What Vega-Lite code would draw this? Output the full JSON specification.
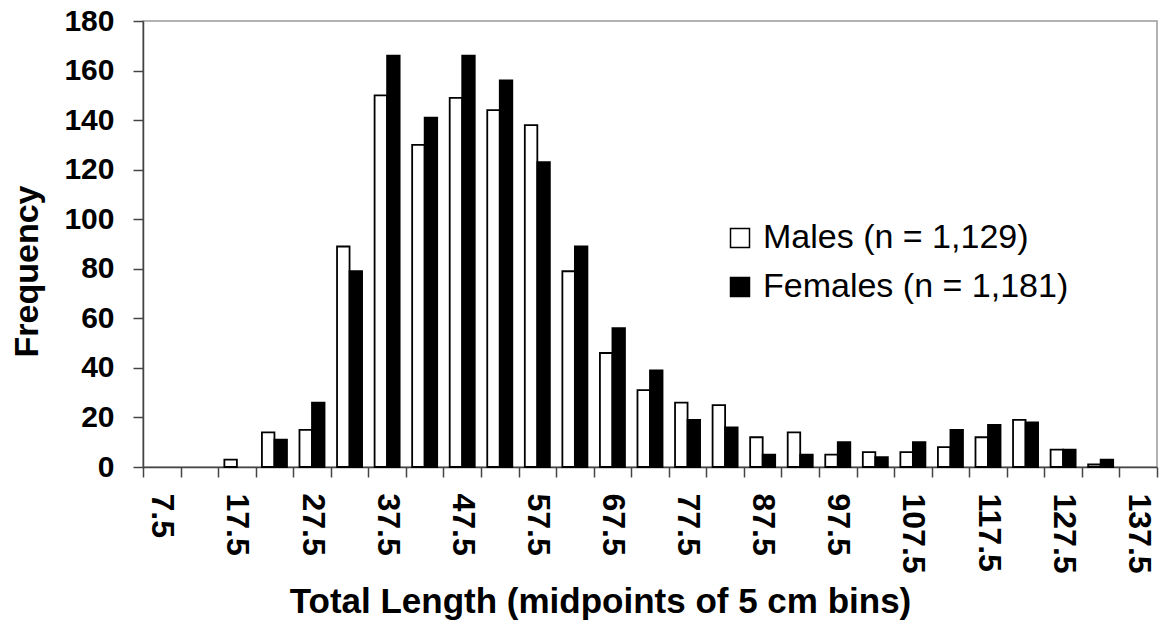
{
  "$schema": "https://vega.github.io/schema/vega-lite/v6.json",
  "width": 1014,
  "height": 446,
  "autosize": {"type": "none"},
  "padding": {"left": 143, "top": 21, "right": 2, "bottom": 158},
  "background": "white",
  "config": {
    "font": "Liberation Sans",
    "view": {"stroke": "#999999", "strokeWidth": 1.5}
  },
  "data": {
    "values": [
      {"bin": 7.5, "sex": "Males (n = 1,129)", "count": 0},
      {"bin": 7.5, "sex": "Females (n = 1,181)", "count": 0},
      {"bin": 12.5, "sex": "Males (n = 1,129)", "count": 0},
      {"bin": 12.5, "sex": "Females (n = 1,181)", "count": 0},
      {"bin": 17.5, "sex": "Males (n = 1,129)", "count": 3},
      {"bin": 17.5, "sex": "Females (n = 1,181)", "count": 0},
      {"bin": 22.5, "sex": "Males (n = 1,129)", "count": 14},
      {"bin": 22.5, "sex": "Females (n = 1,181)", "count": 11},
      {"bin": 27.5, "sex": "Males (n = 1,129)", "count": 15},
      {"bin": 27.5, "sex": "Females (n = 1,181)", "count": 26},
      {"bin": 32.5, "sex": "Males (n = 1,129)", "count": 89},
      {"bin": 32.5, "sex": "Females (n = 1,181)", "count": 79},
      {"bin": 37.5, "sex": "Males (n = 1,129)", "count": 150},
      {"bin": 37.5, "sex": "Females (n = 1,181)", "count": 166},
      {"bin": 42.5, "sex": "Males (n = 1,129)", "count": 130},
      {"bin": 42.5, "sex": "Females (n = 1,181)", "count": 141},
      {"bin": 47.5, "sex": "Males (n = 1,129)", "count": 149},
      {"bin": 47.5, "sex": "Females (n = 1,181)", "count": 166},
      {"bin": 52.5, "sex": "Males (n = 1,129)", "count": 144},
      {"bin": 52.5, "sex": "Females (n = 1,181)", "count": 156},
      {"bin": 57.5, "sex": "Males (n = 1,129)", "count": 138},
      {"bin": 57.5, "sex": "Females (n = 1,181)", "count": 123},
      {"bin": 62.5, "sex": "Males (n = 1,129)", "count": 79},
      {"bin": 62.5, "sex": "Females (n = 1,181)", "count": 89},
      {"bin": 67.5, "sex": "Males (n = 1,129)", "count": 46},
      {"bin": 67.5, "sex": "Females (n = 1,181)", "count": 56},
      {"bin": 72.5, "sex": "Males (n = 1,129)", "count": 31},
      {"bin": 72.5, "sex": "Females (n = 1,181)", "count": 39},
      {"bin": 77.5, "sex": "Males (n = 1,129)", "count": 26},
      {"bin": 77.5, "sex": "Females (n = 1,181)", "count": 19},
      {"bin": 82.5, "sex": "Males (n = 1,129)", "count": 25},
      {"bin": 82.5, "sex": "Females (n = 1,181)", "count": 16},
      {"bin": 87.5, "sex": "Males (n = 1,129)", "count": 12},
      {"bin": 87.5, "sex": "Females (n = 1,181)", "count": 5},
      {"bin": 92.5, "sex": "Males (n = 1,129)", "count": 14},
      {"bin": 92.5, "sex": "Females (n = 1,181)", "count": 5},
      {"bin": 97.5, "sex": "Males (n = 1,129)", "count": 5},
      {"bin": 97.5, "sex": "Females (n = 1,181)", "count": 10},
      {"bin": 102.5, "sex": "Males (n = 1,129)", "count": 6},
      {"bin": 102.5, "sex": "Females (n = 1,181)", "count": 4},
      {"bin": 107.5, "sex": "Males (n = 1,129)", "count": 6},
      {"bin": 107.5, "sex": "Females (n = 1,181)", "count": 10},
      {"bin": 112.5, "sex": "Males (n = 1,129)", "count": 8},
      {"bin": 112.5, "sex": "Females (n = 1,181)", "count": 15},
      {"bin": 117.5, "sex": "Males (n = 1,129)", "count": 12},
      {"bin": 117.5, "sex": "Females (n = 1,181)", "count": 17},
      {"bin": 122.5, "sex": "Males (n = 1,129)", "count": 19},
      {"bin": 122.5, "sex": "Females (n = 1,181)", "count": 18},
      {"bin": 127.5, "sex": "Males (n = 1,129)", "count": 7},
      {"bin": 127.5, "sex": "Females (n = 1,181)", "count": 7},
      {"bin": 132.5, "sex": "Males (n = 1,129)", "count": 1},
      {"bin": 132.5, "sex": "Females (n = 1,181)", "count": 3},
      {"bin": 137.5, "sex": "Males (n = 1,129)", "count": 0},
      {"bin": 137.5, "sex": "Females (n = 1,181)", "count": 0}
    ]
  },
  "transform": [{"filter": "datum.count > 0"}],
  "mark": {"type": "bar", "stroke": "black", "strokeWidth": 1.8},
  "encoding": {
    "x": {
      "field": "bin",
      "type": "ordinal",
      "scale": {
        "domain": [7.5, 12.5, 17.5, 22.5, 27.5, 32.5, 37.5, 42.5, 47.5, 52.5, 57.5, 62.5, 67.5, 72.5, 77.5, 82.5, 87.5, 92.5, 97.5, 102.5, 107.5, 112.5, 117.5, 122.5, 127.5, 132.5, 137.5],
        "paddingInner": 0,
        "paddingOuter": 0
      },
      "axis": {
        "title": "Total Length (midpoints of 5 cm bins)",
        "tickBand": "extent",
        "labelAngle": 90,
        "labelFontSize": 32,
        "labelFontWeight": "bold",
        "labelColor": "black",
        "labelPadding": 16,
        "labelOverlap": false,
        "labelExpr": "(datum.value - 7.5) % 10 == 0 ? datum.label : ''",
        "tickSize": 10,
        "tickColor": "#444444",
        "tickWidth": 1.5,
        "domainColor": "#444444",
        "domainWidth": 1.5,
        "titleFontSize": 35,
        "titleFontWeight": "bold",
        "titleColor": "black",
        "titleX": 457,
        "titleY": 145,
        "titleAlign": "center",
        "titleBaseline": "alphabetic"
      }
    },
    "xOffset": {
      "field": "sex",
      "type": "nominal",
      "scale": {
        "domain": ["Males (n = 1,129)", "Females (n = 1,181)"],
        "paddingInner": 0,
        "paddingOuter": 0.5
      }
    },
    "y": {
      "field": "count",
      "type": "quantitative",
      "scale": {"domain": [0, 180], "nice": false},
      "axis": {
        "title": "Frequency",
        "values": [0, 20, 40, 60, 80, 100, 120, 140, 160, 180],
        "grid": false,
        "tickSize": 10,
        "tickColor": "#444444",
        "tickWidth": 1.5,
        "domainColor": "#444444",
        "domainWidth": 1.5,
        "labelFontSize": 30,
        "labelFontWeight": "bold",
        "labelColor": "black",
        "labelPadding": 19,
        "titleFontSize": 34,
        "titleFontWeight": "bold",
        "titleColor": "black",
        "titleAngle": 270,
        "titleAlign": "center",
        "titleBaseline": "alphabetic",
        "titleX": -106,
        "titleY": 250
      }
    },
    "fill": {
      "field": "sex",
      "type": "nominal",
      "scale": {
        "domain": ["Males (n = 1,129)", "Females (n = 1,181)"],
        "range": ["white", "black"]
      },
      "legend": {
        "orient": "none",
        "legendX": 580,
        "legendY": 200,
        "title": null,
        "padding": 0,
        "symbolType": "square",
        "symbolSize": 361,
        "symbolStrokeColor": "black",
        "symbolStrokeWidth": 1.5,
        "labelFontSize": 34,
        "labelFontWeight": "normal",
        "labelColor": "black",
        "labelOffset": 6,
        "labelLimit": 500,
        "rowPadding": 15
      }
    }
  }
}
